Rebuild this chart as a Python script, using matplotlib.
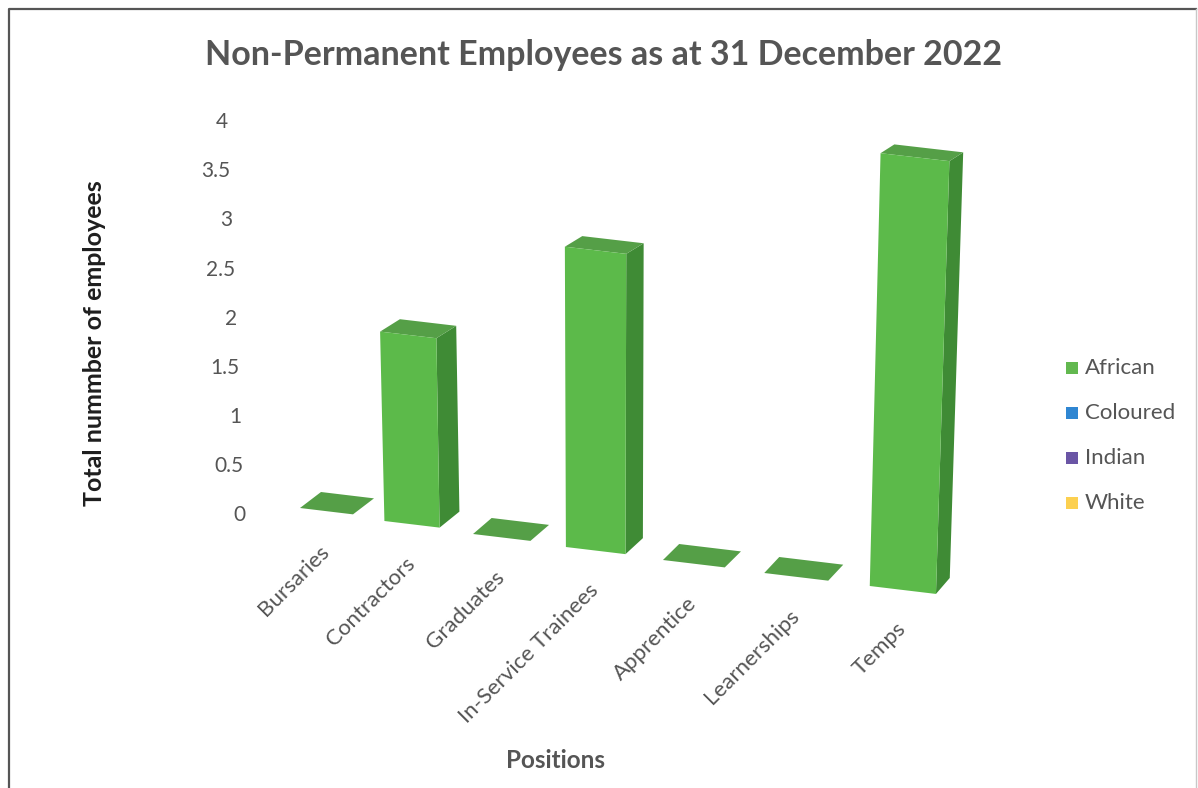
import matplotlib.pyplot as plt
from matplotlib.patches import Polygon, Rectangle

plt.rcParams['font.family'] = ['Lato', 'DejaVu Sans']

# Chart data
positions = ['Bursaries', 'Contractors', 'Graduates', 'In-Service Trainees',
             'Apprentice', 'Learnerships', 'Temps']
african = [0, 2, 0, 3, 0, 0, 4]
series = ['African', 'Coloured', 'Indian', 'White']
series_colors = ['#62b84f', '#2f86d2', '#6a55a5', '#fcd050']
y_ticks = [0, 0.5, 1, 1.5, 2, 2.5, 3, 3.5, 4]

text_grey = '#555555'
front_col = '#5cba4a'
side_col = '#3f8b35'
top_col = '#559f47'


# simple perspective: category index i, height z -> canvas pixels
def floor_corner(i):
    left = 300 + 82.3 * i + 2.11 * i * i
    base = 508 + 13 * i
    width = 53 + 2.2 * i
    return left, base, width


def lift(x, y, z, i):
    scale = 92 + 2.7 * i
    return x + (x - 600) * 0.01 * z, y - scale * z


def depth(i, z):
    return 21 - 1.2 * i, -(16 - 1.8 * z)


fig = plt.figure(figsize=(11.98, 7.88), dpi=100)
ax = fig.add_axes([0, 0, 1, 1])
ax.set_xlim(0, 1198)
ax.set_ylim(788, 0)
ax.axis('off')

# outer frame
ax.plot([9, 9, 1196], [790, 9, 9], color='#555555', lw=1.6)
ax.plot([1196, 1196], [9, 790], color='#c8c8c8', lw=1.0)

ax.text(604, 55, 'Non-Permanent Employees as at 31 December 2022',
        ha='center', va='center', fontsize=24.5, fontweight='bold', color=text_grey)

# value axis labels
for t in y_ticks:
    ax.text(246 - 4.5 * t, 515 - 98.2 * t, f'{t:g}', ha='right', va='center',
            fontsize=15, color=text_grey)

ax.text(95, 343, 'Total nummber of employees', rotation=90, ha='center', va='center',
        fontsize=18, fontweight='bold', color='#1e1e1e')
ax.text(555, 760, 'Positions', ha='center', va='center',
        fontsize=17.5, fontweight='bold', color=text_grey)

# bars
for i, (name, v) in enumerate(zip(positions, african)):
    left, base, width = floor_corner(i)
    p0 = (left, base)
    p1 = (left + width, base + 0.12 * width)
    t0 = lift(*p0, v, i)
    t1 = lift(*p1, v, i)
    dx0, dy0 = depth(i, 0)
    dxv, dyv = depth(i, v)
    if v > 0:
        side = [p1, (p1[0] + dx0, p1[1] + dy0), (t1[0] + dxv, t1[1] + dyv), t1]
        ax.add_patch(Polygon(side, closed=True, facecolor=side_col, edgecolor='none'))
    top = [t0, t1, (t1[0] + dxv, t1[1] + dyv), (t0[0] + dxv, t0[1] + dyv)]
    ax.add_patch(Polygon(top, closed=True, facecolor=top_col, edgecolor='none'))
    if v > 0:
        front = [p0, p1, t1, t0]
        ax.add_patch(Polygon(front, closed=True, facecolor=front_col, edgecolor='none'))

    cx = left + width / 2
    ax.text(cx, base + 40, name, rotation=45, rotation_mode='anchor',
            ha='right', va='center', fontsize=16, color=text_grey)

# legend
for k, (name, col) in enumerate(zip(series, series_colors)):
    y = 368 + 45 * k
    ax.add_patch(Rectangle((1066, y - 6), 12, 12, facecolor=col, edgecolor='none'))
    ax.text(1085, y, name, ha='left', va='center', fontsize=16, color=text_grey)

plt.savefig('out.png', dpi=100)
